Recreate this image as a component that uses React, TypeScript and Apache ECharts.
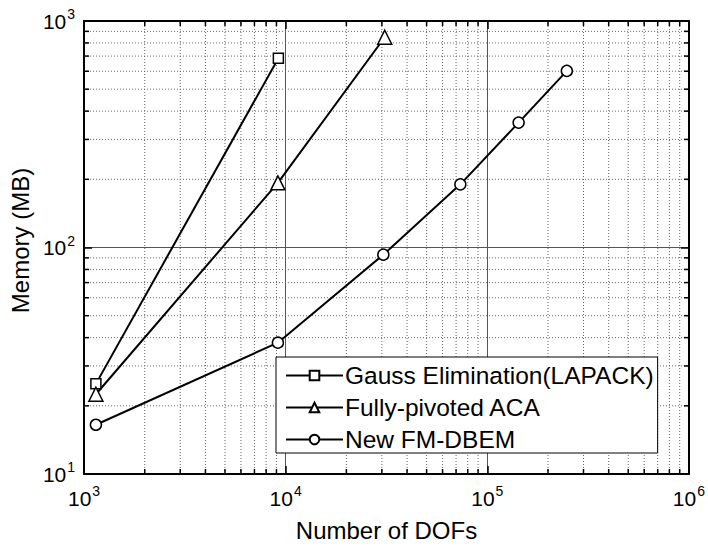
import React, { useEffect, useRef } from "react";
import * as echarts from "echarts";

const X_MIN = 1e3;
const X_MAX = 1e6;
const Y_MIN = 10;
const Y_MAX = 1000;

const gaussX = [1145, 9200];
const gaussY = [25, 685];
const acaX = [1145, 9150, 31000];
const acaY = [22.5, 193, 848];
const fmX = [1145, 9150, 30500, 73500, 143000, 248000];
const fmY = [16.5, 38, 93, 190, 356, 602];

const seriesNames = ["Gauss Elimination(LAPACK)", "Fully-pivoted ACA", "New FM-DBEM"];

const xMinor = [
  2e3, 3e3, 4e3, 5e3, 6e3, 7e3, 8e3, 9e3,
  2e4, 3e4, 4e4, 5e4, 6e4, 7e4, 8e4, 9e4,
  2e5, 3e5, 4e5, 5e5, 6e5, 7e5, 8e5, 9e5,
];
const yMinor = [20, 30, 40, 50, 60, 70, 80, 90, 200, 300, 400, 500, 600, 700, 800, 900];

const FONT = "Liberation Sans, Arial, sans-serif";

function expLabel(v: number) {
  const e = Math.round(Math.log10(v));
  return "{b|10}{s|" + e + "}";
}

const richLabel = {
  b: { fontSize: 21, fontFamily: FONT, color: "#000" },
  s: { fontSize: 14, fontFamily: FONT, color: "#000", padding: [0, 0, 14, 1] },
};

export default function App() {
  const ref = useRef<HTMLDivElement>(null);
  useEffect(() => {
    if (!ref.current) return;
    const chart = echarts.init(ref.current, null, { renderer: "svg" });
    const zip = (xs: number[], ys: number[]) => xs.map((x, i) => [x, ys[i]]);
    const lineSeries = (name: string, data: number[][], symbol: string, size: number) => ({
      name,
      type: "line",
      data,
      symbol,
      symbolSize: size,
      showSymbol: true,
      z: 5,
      lineStyle: { color: "#000", width: 2 },
      itemStyle: { color: "#fff", borderColor: "#000", borderWidth: 1.5 },
    });
    const tickLen = 5;
    chart.setOption({
      animation: false,
      backgroundColor: "#fff",
      grid: { left: 80, top: 21, right: 17, bottom: 72 },
      legend: {
        data: seriesNames,
        orient: "vertical",
        left: 276,
        top: 357,
        backgroundColor: "#fff",
        borderColor: "#000",
        borderWidth: 1,
        borderRadius: 0,
        padding: [6, 4, 1, 9],
        itemWidth: 57,
        itemHeight: 12,
        itemGap: 7,
        textStyle: { fontSize: 24.5, fontFamily: FONT, color: "#000", padding: [0, 0, 0, -3] },
      },
      xAxis: [
        {
          type: "log",
          logBase: 10,
          min: X_MIN,
          max: X_MAX,
          name: "Number of DOFs",
          nameLocation: "middle",
          nameGap: 44,
          nameTextStyle: { fontSize: 24, fontFamily: FONT, color: "#000" },
          axisLine: { show: true, lineStyle: { color: "#000", width: 2 } },
          axisTick: { show: true, inside: true, length: 8, lineStyle: { color: "#000", width: 1.5 } },
          axisLabel: { margin: 10, formatter: expLabel, rich: richLabel },
          splitLine: { show: true, lineStyle: { color: "#555", width: 1 } },
        },
        {
          type: "log",
          logBase: 10,
          min: X_MIN,
          max: X_MAX,
          position: "top",
          axisLine: { show: true, lineStyle: { color: "#000", width: 2 } },
          axisTick: { show: true, inside: true, length: 8, lineStyle: { color: "#000", width: 1.5 } },
          axisLabel: { show: false },
          splitLine: { show: false },
        },
      ],
      yAxis: [
        {
          type: "log",
          logBase: 10,
          min: Y_MIN,
          max: Y_MAX,
          name: "Memory (MB)",
          nameLocation: "middle",
          nameGap: 49,
          nameTextStyle: { fontSize: 24, fontFamily: FONT, color: "#000", padding: [0, 0, 0, 14] },
          axisLine: { show: true, lineStyle: { color: "#000", width: 2 } },
          axisTick: { show: true, inside: true, length: 8, lineStyle: { color: "#000", width: 1.5 } },
          axisLabel: { margin: 9, formatter: expLabel, rich: richLabel },
          splitLine: { show: true, lineStyle: { color: "#555", width: 1 } },
        },
        {
          type: "log",
          logBase: 10,
          min: Y_MIN,
          max: Y_MAX,
          position: "right",
          axisLine: { show: true, lineStyle: { color: "#000", width: 2 } },
          axisTick: { show: true, inside: true, length: 8, lineStyle: { color: "#000", width: 1.5 } },
          axisLabel: { show: false },
          splitLine: { show: false },
        },
      ],
      series: [
        {
          type: "custom",
          name: "xminor",
          silent: true,
          z: 1,
          xAxisIndex: 0,
          yAxisIndex: 0,
          data: xMinor.map((v) => [v, Y_MIN]),
          renderItem: (params: any, api: any) => {
            const v = api.value(0);
            const p0 = api.coord([v, Y_MIN]);
            const p1 = api.coord([v, Y_MAX]);
            return {
              type: "group",
              children: [
                { type: "line", shape: { x1: p0[0], y1: p0[1], x2: p1[0], y2: p1[1] }, style: { stroke: "#666", lineWidth: 1, lineDash: [1, 2] } },
                { type: "line", shape: { x1: p0[0], y1: p0[1], x2: p0[0], y2: p0[1] - tickLen }, style: { stroke: "#000", lineWidth: 1.5 } },
                { type: "line", shape: { x1: p1[0], y1: p1[1], x2: p1[0], y2: p1[1] + tickLen }, style: { stroke: "#000", lineWidth: 1.5 } },
              ],
            };
          },
        },
        {
          type: "custom",
          name: "yminor",
          silent: true,
          z: 1,
          xAxisIndex: 0,
          yAxisIndex: 0,
          data: yMinor.map((v) => [X_MIN, v]),
          renderItem: (params: any, api: any) => {
            const v = api.value(1);
            const p0 = api.coord([X_MIN, v]);
            const p1 = api.coord([X_MAX, v]);
            return {
              type: "group",
              children: [
                { type: "line", shape: { x1: p0[0], y1: p0[1], x2: p1[0], y2: p1[1] }, style: { stroke: "#666", lineWidth: 1, lineDash: [1, 2] } },
                { type: "line", shape: { x1: p0[0], y1: p0[1], x2: p0[0] + tickLen, y2: p0[1] }, style: { stroke: "#000", lineWidth: 1.5 } },
                { type: "line", shape: { x1: p1[0], y1: p1[1], x2: p1[0] - tickLen, y2: p1[1] }, style: { stroke: "#000", lineWidth: 1.5 } },
              ],
            };
          },
        },
        lineSeries(seriesNames[0], zip(gaussX, gaussY), "rect", 10),
        lineSeries(seriesNames[1], zip(acaX, acaY), "triangle", 14),
        lineSeries(seriesNames[2], zip(fmX, fmY), "circle", 11),
      ],
    });
    return () => chart.dispose();
  }, []);
  return (
    <div
      ref={ref}
      style={{ position: "absolute", left: 0, top: 0, width: 708, height: 547 }}
    />
  );
}
